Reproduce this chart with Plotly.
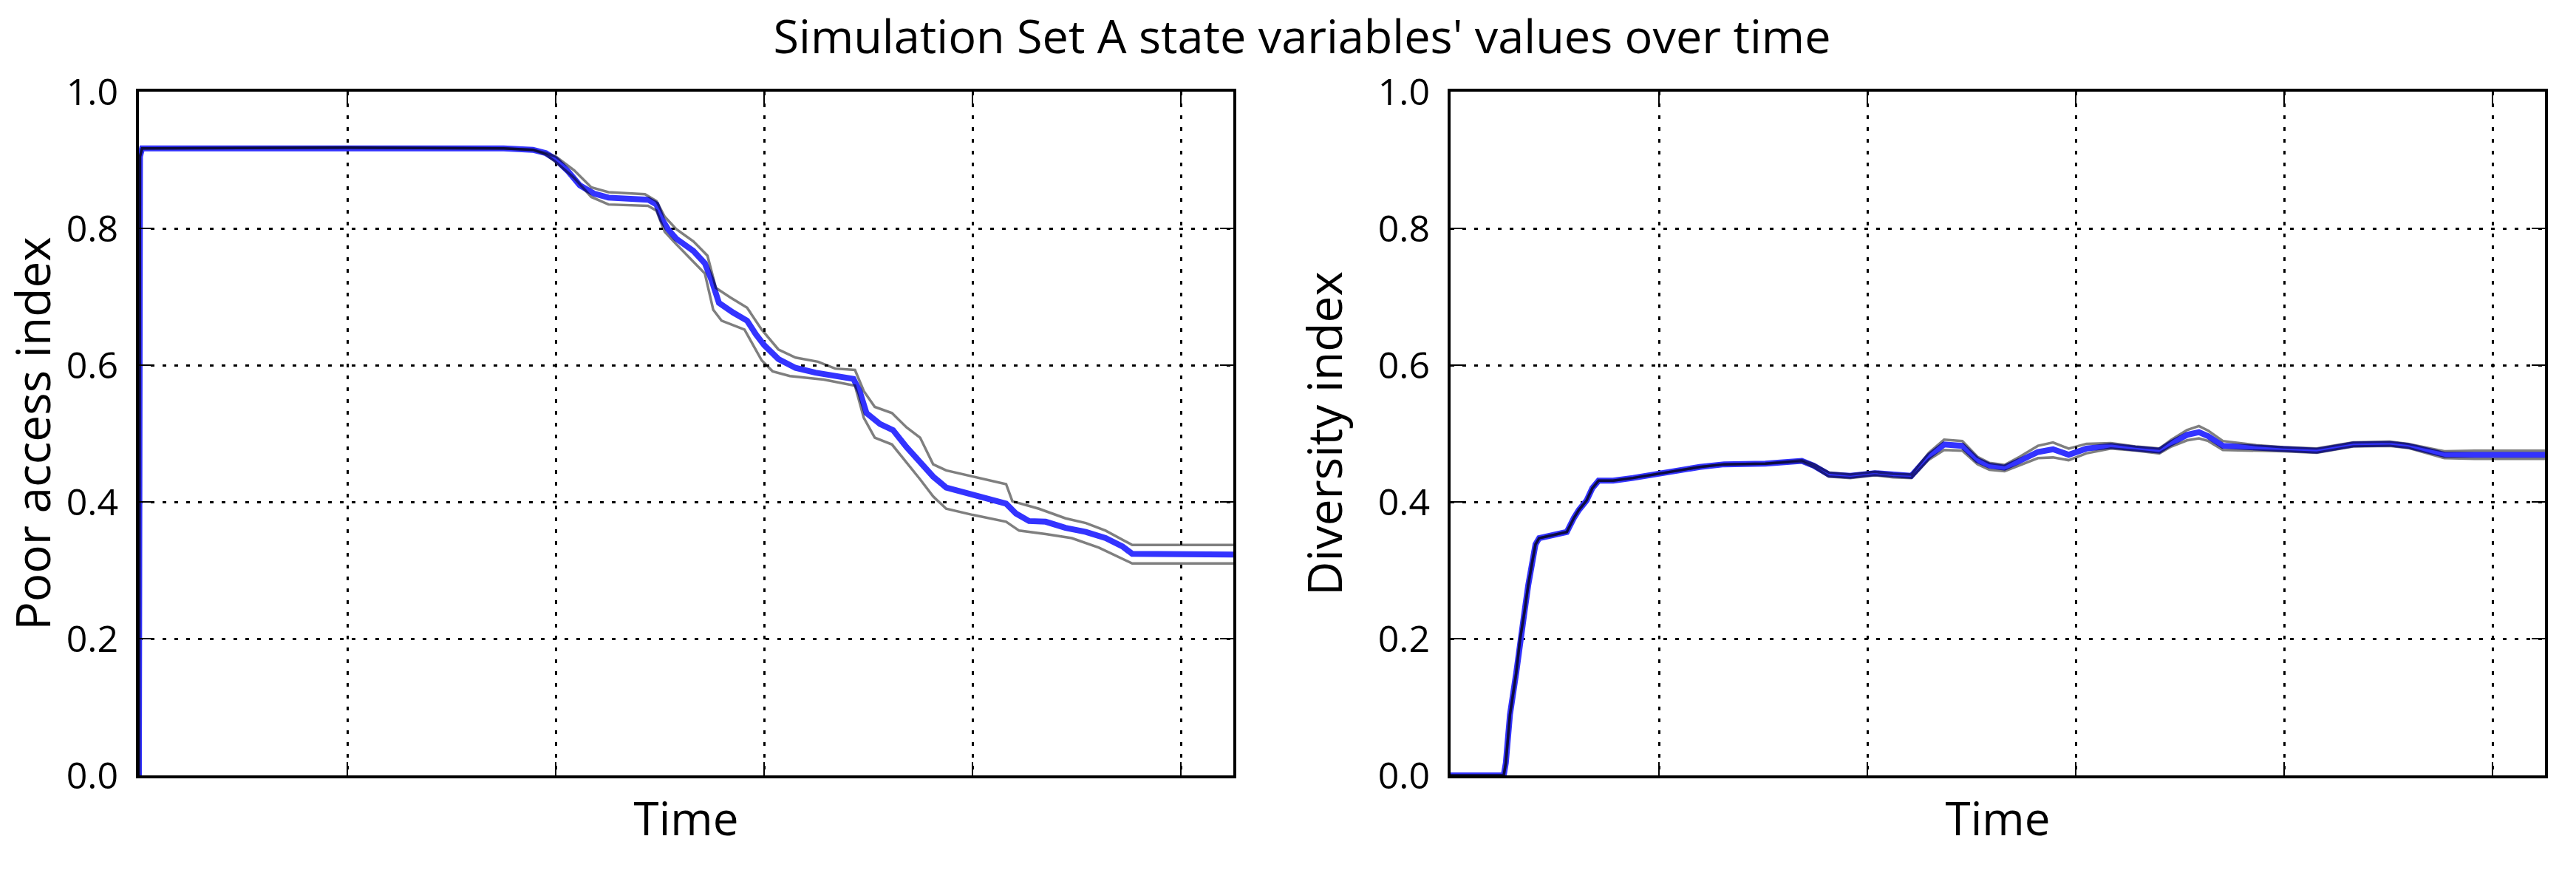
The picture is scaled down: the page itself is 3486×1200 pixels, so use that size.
import plotly.graph_objects as go

# ---------------- data ----------------
# Left panel: Poor access index
x_mean_l = [0, 2, 6, 400, 700, 756, 781, 800, 824, 846, 873, 901, 944, 977, 993, 1004, 1015, 1031,
            1064, 1086, 1099, 1113, 1140, 1167, 1184, 1200, 1227, 1260, 1298, 1332, 1371, 1383, 1396,
            1422, 1447, 1473, 1499, 1524, 1549, 1600, 1664, 1683, 1708, 1740, 1778, 1817, 1855, 1887,
            1906, 2100]
mean_l = [0, 0.905, 0.917, 0.918, 0.917, 0.915, 0.910, 0.901, 0.883, 0.863, 0.851, 0.845, 0.844,
          0.842, 0.835, 0.813, 0.799, 0.785, 0.767, 0.749, 0.724, 0.691, 0.677, 0.665, 0.645, 0.629,
          0.609, 0.596, 0.589, 0.584, 0.580, 0.562, 0.530, 0.514, 0.505, 0.480, 0.458, 0.437, 0.421,
          0.410, 0.3975, 0.383, 0.372, 0.371, 0.362, 0.356, 0.347, 0.335, 0.324, 0.323]

x_upper_l = [0, 2, 6, 400, 700, 756, 781, 800, 835, 868, 901, 971, 993, 1009, 1031, 1064, 1091, 1107,
             1135, 1167, 1195, 1227, 1260, 1303, 1336, 1374, 1391, 1412, 1445, 1473, 1499, 1524, 1549,
             1600, 1664, 1676, 1727, 1778, 1817, 1855, 1906, 2100]
upper_l = [0, 0.905, 0.917, 0.918, 0.917, 0.915, 0.910, 0.905, 0.885, 0.860, 0.853, 0.850, 0.840,
           0.817, 0.799, 0.781, 0.760, 0.713, 0.699, 0.684, 0.652, 0.623, 0.611, 0.605, 0.595, 0.593,
           0.562, 0.539, 0.530, 0.509, 0.494, 0.455, 0.446, 0.437, 0.426, 0.401, 0.390, 0.376, 0.369,
           0.358, 0.337, 0.337]

x_lower_l = [0, 2, 6, 400, 700, 756, 781, 800, 835, 868, 901, 977, 993, 1009, 1031, 1064, 1086, 1102,
             1118, 1162, 1178, 1195, 1216, 1249, 1314, 1374, 1391, 1412, 1445, 1473, 1499, 1524, 1549,
             1600, 1664, 1689, 1740, 1790, 1842, 1906, 2100]
lower_l = [0, 0.905, 0.917, 0.918, 0.917, 0.915, 0.908, 0.897, 0.874, 0.846, 0.835, 0.833, 0.826,
           0.795, 0.777, 0.752, 0.734, 0.681, 0.665, 0.652, 0.630, 0.607, 0.591, 0.584, 0.579, 0.570,
           0.523, 0.494, 0.484, 0.458, 0.433, 0.408, 0.390, 0.381, 0.371, 0.358, 0.353, 0.347, 0.333,
           0.310, 0.310]

# Right panel: Diversity index
x_r = [0, 102, 106, 114, 126, 133, 142, 149, 156, 163, 170, 223, 237, 246, 261, 272, 284, 312, 350,
       403, 478, 525, 604, 674, 697, 726, 767, 814, 849, 884, 918, 947, 982, 1011, 1034, 1063, 1092,
       1127, 1156, 1186, 1220, 1267, 1314, 1360, 1383, 1413, 1436, 1454, 1482, 1546, 1598, 1662, 1686,
       1732, 1802, 1837, 1907, 1965, 2100]
mean_r = [0, 0, 0.018, 0.089, 0.150, 0.197, 0.240, 0.278, 0.309, 0.338, 0.347, 0.356, 0.377, 0.388,
          0.402, 0.420, 0.431, 0.431, 0.435, 0.442, 0.451, 0.455, 0.456, 0.460, 0.453, 0.440, 0.438,
          0.442, 0.439, 0.438, 0.467, 0.484, 0.482, 0.461, 0.453, 0.450, 0.460, 0.473, 0.477, 0.469,
          0.478, 0.482, 0.478, 0.475, 0.486, 0.498, 0.502, 0.496, 0.482, 0.479, 0.477, 0.475, 0.478,
          0.484, 0.485, 0.482, 0.469, 0.469, 0.469]
upper_r = [0, 0, 0.018, 0.089, 0.150, 0.197, 0.240, 0.278, 0.309, 0.338, 0.347, 0.356, 0.377, 0.388,
           0.402, 0.420, 0.431, 0.431, 0.435, 0.442, 0.451, 0.455, 0.456, 0.461, 0.455, 0.443, 0.440,
           0.444, 0.441, 0.440, 0.472, 0.491, 0.489, 0.466, 0.457, 0.454, 0.466, 0.482, 0.487, 0.478,
           0.485, 0.486, 0.481, 0.478, 0.491, 0.505, 0.511, 0.504, 0.489, 0.483, 0.480, 0.478, 0.481,
           0.487, 0.488, 0.485, 0.474, 0.475, 0.475]
lower_r = [0, 0, 0.018, 0.089, 0.150, 0.197, 0.240, 0.278, 0.309, 0.338, 0.347, 0.356, 0.377, 0.388,
           0.402, 0.420, 0.431, 0.431, 0.435, 0.442, 0.451, 0.455, 0.456, 0.459, 0.451, 0.437, 0.435,
           0.439, 0.436, 0.435, 0.462, 0.476, 0.475, 0.455, 0.447, 0.445, 0.454, 0.464, 0.465, 0.461,
           0.471, 0.478, 0.475, 0.471, 0.481, 0.490, 0.493, 0.489, 0.476, 0.475, 0.474, 0.472, 0.475,
           0.481, 0.482, 0.479, 0.464, 0.463, 0.463]

y_ticks = [0.0, 0.2, 0.4, 0.6, 0.8, 1.0]
x_ticks = [0, 400, 800, 1200, 1600, 2000]
x_range = [0, 2100]

title_text = "Simulation Set A state variables' values over time"
ylabel_l = "Poor access index"
ylabel_r = "Diversity index"
xlabel = "Time"

# ---------------- figure ----------------
FONT = "Open Sans"
MEAN_COLOR = "#3333ff"
BOUND_COLOR = "rgba(0,0,0,0.5)"

fig = go.Figure()


def add_panel(xm, ym, xu, yu, xl, yl, xa, ya):
    fig.add_trace(go.Scatter(x=xm, y=ym, mode="lines", xaxis=xa, yaxis=ya,
                             line=dict(color=MEAN_COLOR, width=8), showlegend=False))
    fig.add_trace(go.Scatter(x=xu, y=yu, mode="lines", xaxis=xa, yaxis=ya,
                             line=dict(color=BOUND_COLOR, width=3.5), showlegend=False))
    fig.add_trace(go.Scatter(x=xl, y=yl, mode="lines", xaxis=xa, yaxis=ya,
                             line=dict(color=BOUND_COLOR, width=3.5), showlegend=False))


add_panel(x_mean_l, mean_l, x_upper_l, upper_l, x_lower_l, lower_l, "x", "y")
add_panel(x_r, mean_r, x_r, upper_r, x_r, lower_r, "x2", "y2")

W, H = 3486, 1200
dom_l = [188 / W, 1669 / W]
dom_r = [1963 / W, 3444 / W]
dom_y = [1 - 1049 / H, 1 - 124 / H]

common_x = dict(range=x_range, tickvals=x_ticks, showticklabels=False, automargin=False,
                showline=True, linecolor="black", linewidth=4, mirror="ticks",
                ticks="inside", ticklen=18, tickwidth=2, tickcolor="black",
                showgrid=True, gridcolor="black", gridwidth=2.5, griddash="5px,11px",
                zeroline=False,
                title=dict(text=xlabel, font=dict(family=FONT, size=62, color="black"), standoff=36))
common_y = dict(range=[0, 1], tickvals=y_ticks, tickformat=".1f", automargin=False,
                showline=True, linecolor="black", linewidth=4, mirror="ticks",
                ticks="inside", ticklen=18, tickwidth=2, tickcolor="black",
                showgrid=True, gridcolor="black", gridwidth=2.5, griddash="5px,11px",
                zeroline=False, ticklabelstandoff=14,
                tickfont=dict(family=FONT, size=50, color="black"))

fig.update_layout(
    width=W, height=H,
    margin=dict(l=0, r=0, t=0, b=0, autoexpand=False),
    paper_bgcolor="white", plot_bgcolor="white",
    font=dict(family=FONT, color="black"),
    title=dict(text=title_text, x=1762 / W, xanchor="center", y=1 - 50 / H, yanchor="middle",
               yref="container", xref="container", automargin=False,
               font=dict(family=FONT, size=63, color="black")),
    xaxis=dict(domain=dom_l, anchor="y", **common_x),
    yaxis=dict(domain=dom_y, anchor="x",
               title=dict(text=ylabel_l, font=dict(family=FONT, size=64, color="black"), standoff=28),
               **common_y),
    xaxis2=dict(domain=dom_r, anchor="y2", **common_x),
    yaxis2=dict(domain=dom_y, anchor="x2",
                title=dict(text=ylabel_r, font=dict(family=FONT, size=64, color="black"), standoff=28),
                **common_y),
)

fig.write_html("out.html")
